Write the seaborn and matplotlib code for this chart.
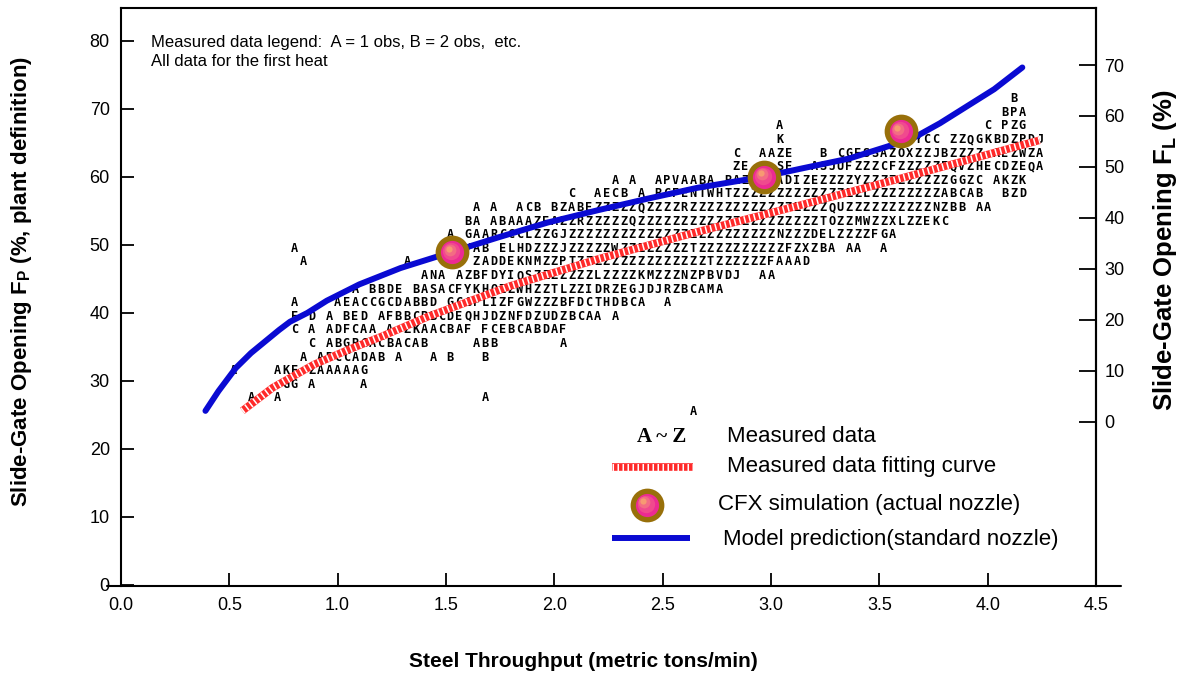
import matplotlib
matplotlib.use("Agg")
import matplotlib.pyplot as plt
import matplotlib.transforms as mtransforms
import numpy as np
import pandas as pd
import seaborn as sns

# model prediction for the standard nozzle (blue curve)
model_x = [0.39, 0.45, 0.53, 0.60, 0.73, 0.78, 0.86, 0.95, 1.10, 1.29, 1.53, 1.74, 1.97,
           2.20, 2.43, 2.66, 2.96, 3.15, 3.36, 3.55, 3.65, 3.78, 3.90, 4.03, 4.16]
model_y = [25.6, 28.5, 31.9, 34.1, 37.5, 38.7, 40.0, 41.8, 44.2, 46.6, 49.0, 51.1, 53.3,
           55.1, 56.8, 58.4, 60.0, 61.3, 62.7, 64.6, 65.6, 67.9, 70.3, 72.9, 76.1]

# fitting curve through the measured data (red hatched)
fit_x = [0.56, 0.70, 0.89, 1.05, 1.20, 1.42, 1.80, 2.21, 2.67, 3.13, 3.60, 4.24]
fit_y = [25.6, 29.0, 32.4, 34.6, 36.5, 39.5, 44.0, 48.0, 52.0, 55.8, 59.8, 65.4]

# CFX simulation, actual nozzle
cfx_x = [1.53, 2.97, 3.60]
cfx_y = [48.9, 60.0, 66.7]

# measured data: one letter per 0.04 t/min x 2 % bin, A = 1 obs, B = 2 obs, ...
bin_w = 0.04
obs_y = [25.5, 27.5, 27.5, 29.5, 31.5, 31.5, 33.5, 35.5, 37.5, 39.5, 41.5, 43.5, 45.5,
         47.5, 47.5, 47.5, 49.5, 49.5, 51.5, 53.5, 55.5, 57.5, 59.5, 61.5, 63.5,
         65.5, 65.5, 67.5, 67.5, 69.5, 71.5]
obs_x0 = [2.64, 0.60, 1.68, 0.76, 0.52, 0.72, 0.84, 0.88, 0.80, 0.80, 0.80, 1.08, 1.40,
          0.84, 1.32, 1.64, 0.80, 1.60, 1.52, 1.60, 1.64, 2.08, 2.28, 2.84, 2.84,
          3.04, 3.68, 3.04, 4.00, 4.08, 4.12]
obs_text = [
    "A",
    "A  A",
    "A",
    "GG A     A",
    "A",
    "AKE ZAAAAAG",
    "A ABCCADAB A   A B   B",
    "C ABGBCACBACAB     ABB       A",
    "C A ADFCAA A ZKAACBAF FCEBCABDAF",
    "E D A BED AFBBCBBCDEQHJDZNFDZUDZBCAA A",
    "A    AEACCGCDABBD GCGFLIZFGWZZZBFDCTHDBCA  A",
    "A BBDE BASACFYKHQZZWHZZTLZZIDRZEGJDJRZBCAMA",
    "ANA AZBFDYIQSZZZZZZZLZZZZKMZZZNZPBVDJ  AA",
    "A",
    "A",
    "ZADDEKNMZZPTZZZZZZZZZZZZZZZTZZZZZZFAAAD",
    "A",
    "VAB ELHDZZZJZZZZZWZZZZZZZZTZZZZZZZZZZFZXZBA AA  A",
    "A GAARCCCLZZGJZZZZZZZZZZZZZZZZZZZZZZZZNZZZDELZZZZFGA",
    "BA ABAAAZEAZZRZZZZZQZZZZZZZZZZZZZZZZZZZZZTOZZMWZZXLZZEKC",
    "A A  ACB BZABEZZZZZQZZZZRZZZZZZZZZZZZZZZZQUZZZZZZZZZZNZBB AA",
    "C  AECB A BCFENTWHTZZZZZZZZZZZZZZZLZZZZZZZZABCAB  BZD",
    "A A  APVAABA BAZZZZADIZEZZZZYZZZZZZZZZZGGZC AKZK",
    "ZE   SE  ASJUFZZZCFZZZZZFQVZHECDZEQA",
    "C  AAZE   B CGFSSAZOXZZJBZZZZ AEZWZA",
    "K",
    "YCC ZZQGKBDZPDJ",
    "A",
    "C PZG",
    "BPA",
    "B",
]

x_ticks = [0.0, 0.5, 1.0, 1.5, 2.0, 2.5, 3.0, 3.5, 4.0, 4.5]
fp_ticks = [0, 10, 20, 30, 40, 50, 60, 70, 80]
fl_ticks = [0, 10, 20, 30, 40, 50, 60, 70]
fl_zero = 24.0       # F_P value at which F_L = 0
fp_per_fl = 0.7494   # F_P units per F_L unit

recs = []
for y, x0, s in zip(obs_y, obs_x0, obs_text):
    for i, ch in enumerate(s):
        if ch != " ":
            recs.append((x0 + i * bin_w, y, ch))
obs = pd.DataFrame(recs, columns=["x", "y", "letter"])

sns.set_theme(style="white")
plt.rcParams["font.family"] = ["Liberation Sans", "DejaVu Sans"]
plt.rcParams["mathtext.fontset"] = "custom"
plt.rcParams["mathtext.rm"] = "Liberation Sans"
plt.rcParams["mathtext.bf"] = "Liberation Sans:bold"
plt.rcParams["mathtext.it"] = "Liberation Sans:italic"

fig = plt.figure(figsize=(11.8, 6.75), dpi=100)
ax = fig.add_axes([0.1025, 0.1319, 0.8263, 0.8563])

blue = "#0a0ad2"
red = "#ff2a2a"
ring = "#98700a"

# letters
for _, r in obs.iterrows():
    ax.text(r["x"], r["y"], r["letter"], ha="center", va="center", fontsize=8.6,
            family="DejaVu Sans Mono", weight="bold", color="black", zorder=2)

# fitting curve: red with white stripes
sns.lineplot(x=fit_x, y=fit_y, ax=ax, color=red, lw=5.5, zorder=3, solid_capstyle="butt")
ax.plot(fit_x, fit_y, color="white", lw=5.0, dashes=(0.22, 0.5), zorder=3.1)

# model prediction
sns.lineplot(x=model_x, y=model_y, ax=ax, color=blue, lw=4.3, zorder=4)


def cfx_marker(xs, ys, base, on_ax):
    sns.scatterplot(x=xs, y=ys, ax=on_ax, s=420, color="#ec2a93", edgecolor=ring,
                    linewidth=3.8, zorder=6, transform=base, clip_on=False, legend=False)
    layers = [(12.5, "#f04a8e", 1.0), (8.5, "#f36c84", 1.9), (4.5, "#f79a72", 2.7)]
    for d, c, off in layers:
        tr = mtransforms.offset_copy(base, fig=fig, x=-off, y=off, units="points")
        on_ax.scatter(xs, ys, s=d ** 2, color=c, linewidths=0, zorder=6.1,
                      transform=tr, clip_on=False)


cfx_marker(cfx_x, cfx_y, ax.transData, ax)

ax.set_xlim(0, 4.5)
ax.set_ylim(-0.15, 84.85)
ax.set_xticks(x_ticks)
ax.set_xticklabels([f"{t:.1f}" for t in x_ticks])
ax.set_yticks(fp_ticks)
ax.set_yticklabels([str(t) for t in fp_ticks])
ax.tick_params(axis="x", direction="in", length=9.5, width=1.3, pad=8, labelsize=13,
               colors="black", bottom=True)
ax.tick_params(axis="y", direction="in", length=9, width=1.3, pad=8, labelsize=13,
               colors="black", left=True, right=False)
for sp in ["left", "top", "right"]:
    ax.spines[sp].set_visible(True)
    ax.spines[sp].set_color("black")
    ax.spines[sp].set_linewidth(1.5)
ax.spines["bottom"].set_visible(False)
ax.plot([-0.0144, 1.0256], [0, 0], transform=ax.transAxes, color="black", lw=1.5,
        clip_on=False, zorder=7)

ax2 = ax.twinx()
ax2.set_ylim((-0.15 - fl_zero) / fp_per_fl, (84.85 - fl_zero) / fp_per_fl)
ax2.set_yticks(fl_ticks)
ax2.set_yticklabels([str(t) for t in fl_ticks])
ax2.tick_params(axis="y", direction="in", length=12, width=1.3, pad=6, labelsize=13,
                colors="black", right=True)
for sp in ["left", "top", "bottom"]:
    ax2.spines[sp].set_visible(False)
ax2.spines["right"].set_color("black")
ax2.spines["right"].set_linewidth(1.5)
ax2.grid(False)
ax.grid(False)

ax.set_xlabel("Steel Throughput (metric tons/min)", fontsize=15, fontweight="bold",
              color="black")
ax.xaxis.set_label_coords(0.474, -0.1315)
ax.xaxis.label.set_va("center")
ax.set_ylabel(r"Slide-Gate Opening $\mathbf{F_P}$ (%, plant definition)", fontsize=16,
              fontweight="bold", color="black")
ax.yaxis.set_label_coords(-0.1015, 0.526)
ax.yaxis.label.set_va("center")
ax2.set_ylabel(r"Slide-Gate Opening $\mathbf{F_L}$ (%)", fontsize=18.5, fontweight="bold",
               color="black", rotation=90)
ax2.yaxis.set_label_coords(1.0708, 0.581)
ax2.yaxis.label.set_va("center")

ax.text(0.0308, 0.9394, "Measured data legend:  A = 1 obs, B = 2 obs,  etc.",
        transform=ax.transAxes, fontsize=12, va="center", color="black")
ax.text(0.0308, 0.9066, "All data for the first heat",
        transform=ax.transAxes, fontsize=12, va="center", color="black")

# legend, drawn by hand
ax.text(0.5549, 0.2578, "A ~ Z", transform=ax.transAxes, family="Liberation Serif",
        weight="bold", fontsize=15, ha="center", va="center", color="black")
ax.text(0.6215, 0.2578, "Measured data", transform=ax.transAxes, fontsize=16,
        va="center", color="black")
ax.plot([0.5036, 0.5867], [0.2059, 0.2059], transform=ax.transAxes, color=red, lw=5.5,
        solid_capstyle="butt")
ax.plot([0.5036, 0.5867], [0.2059, 0.2059], transform=ax.transAxes, color="white",
        lw=5.0, dashes=(0.22, 0.5))
ax.text(0.6215, 0.2059, "Measured data fitting curve", transform=ax.transAxes,
        fontsize=16, va="center", color="black")
cfx_marker([0.5395], [0.1401], ax.transAxes, ax)
ax.text(0.6123, 0.1401, "CFX simulation (actual nozzle)", transform=ax.transAxes,
        fontsize=16, va="center", color="black")
ax.plot([0.5036, 0.5836], [0.0830, 0.0830], transform=ax.transAxes, color=blue, lw=4.3,
        solid_capstyle="butt")
ax.text(0.6174, 0.0796, "Model prediction(standard nozzle)", transform=ax.transAxes,
        fontsize=16, va="center", color="black")

fig.savefig("out.png", dpi=100)
